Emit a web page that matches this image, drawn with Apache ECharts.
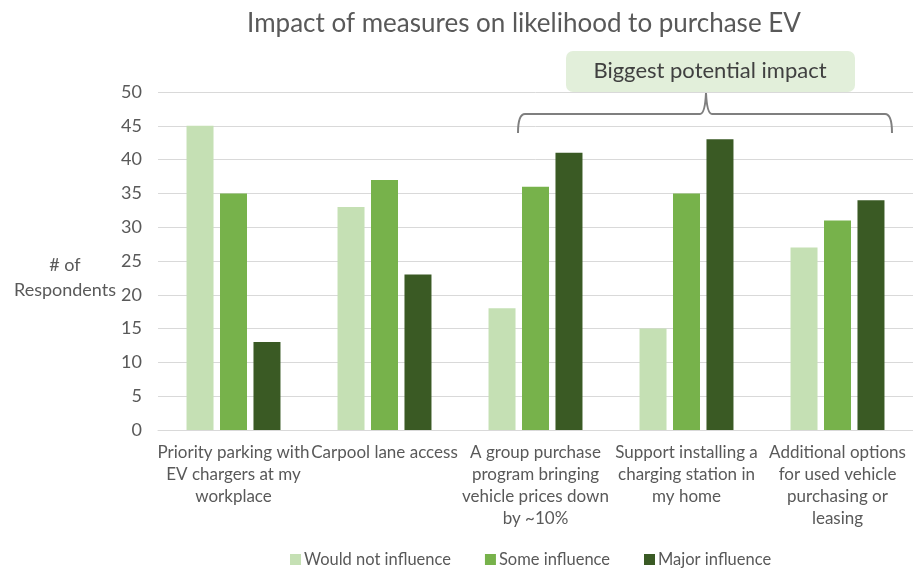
<!DOCTYPE html>
<html>
<head>
<meta charset="utf-8">
<script src="https://cdn.jsdelivr.net/npm/echarts@6/dist/echarts.min.js"></script>
<style>
  html, body { margin: 0; padding: 0; background: #fff; }
  #chart { width: 913px; height: 569px; }
</style>
</head>
<body>
<div id="chart"></div>
<script>
// Survey results: how each measure would influence the likelihood to buy an EV
const categories = [
  'Priority parking with\nEV chargers at my\nworkplace',
  'Carpool lane access',
  'A group purchase\nprogram bringing\nvehicle prices down\nby ~10%',
  'Support installing a\ncharging station in\nmy home',
  'Additional options\nfor used vehicle\npurchasing or\nleasing'
];
const seriesNames = ['Would not influence', 'Some influence', 'Major influence'];
const wouldNotInfluence = [45, 33, 18, 15, 27];
const someInfluence = [35, 37, 36, 35, 31];
const majorInfluence = [13, 23, 41, 43, 34];
const yTicks = { min: 0, max: 50, interval: 5 };

const FONT = 'Lato, "Noto Sans", sans-serif';
const TEXT = '#595959';
const BRACE = '#7f7f7f';
const colors = ['#c5e0b4', '#77b24b', '#3a5a24'];

const chart = echarts.init(document.getElementById('chart'));

const makeSeries = (name, data, i) => ({
  name: name,
  type: 'bar',
  data: data,
  barWidth: 27,
  barGap: '24%',
  itemStyle: { color: colors[i] }
});

const braceLine = (x1, y1, x2, y2) => ({
  type: 'line',
  shape: { x1: x1, y1: y1, x2: x2, y2: y2 },
  style: { stroke: BRACE, lineWidth: 2 },
  z: 10
});
const braceCurve = (x1, y1, cx, cy, x2, y2) => ({
  type: 'bezierCurve',
  shape: { x1: x1, y1: y1, cpx1: cx, cpy1: cy, x2: x2, y2: y2 },
  style: { stroke: BRACE, lineWidth: 2, fill: null },
  z: 10
});

chart.setOption({
  animation: false,
  backgroundColor: '#ffffff',
  textStyle: { fontFamily: FONT },
  title: {
    text: 'Impact of measures on likelihood to purchase EV',
    left: 519,
    textAlign: 'center',
    top: 6,
    textStyle: { fontFamily: FONT, fontSize: 26, fontWeight: 'normal', color: TEXT }
  },
  legend: {
    top: 546,
    left: 285,
    itemWidth: 11,
    itemHeight: 11,
    itemGap: 34,
    icon: 'rect',
    textStyle: { fontFamily: FONT, fontSize: 16.5, color: TEXT, padding: [0, 0, 0, -2] },
    data: seriesNames
  },
  grid: { left: 158, right: 0, top: 92, bottom: 139, containLabel: false },
  xAxis: {
    type: 'category',
    data: categories,
    axisLine: { lineStyle: { color: '#d9d9d9', width: 1 } },
    axisTick: { show: false },
    axisLabel: {
      interval: 0,
      margin: 12,
      fontFamily: FONT,
      fontSize: 17,
      lineHeight: 22,
      color: TEXT
    }
  },
  yAxis: {
    type: 'value',
    min: yTicks.min,
    max: yTicks.max,
    interval: yTicks.interval,
    axisLine: { show: false },
    axisTick: { show: false },
    splitLine: { lineStyle: { color: '#d9d9d9', width: 1 } },
    axisLabel: { margin: 16, fontFamily: FONT, fontSize: 18, color: TEXT }
  },
  series: [
    makeSeries(seriesNames[0], wouldNotInfluence, 0),
    makeSeries(seriesNames[1], someInfluence, 1),
    makeSeries(seriesNames[2], majorInfluence, 2)
  ],
  graphic: [
    {
      type: 'text',
      x: 65,
      y: 278,
      style: {
        text: '# of\nRespondents',
        align: 'center',
        verticalAlign: 'middle',
        fontFamily: FONT,
        fontSize: 18,
        lineHeight: 25,
        fill: TEXT
      }
    },
    {
      type: 'rect',
      shape: { x: 566, y: 51, width: 289, height: 41, r: 7 },
      style: { fill: '#e2efda' },
      z: 10
    },
    {
      type: 'text',
      x: 710,
      y: 71,
      style: {
        text: 'Biggest potential impact',
        align: 'center',
        verticalAlign: 'middle',
        fontFamily: FONT,
        fontSize: 22,
        fill: '#404040'
      },
      z: 11
    },
    // curly brace spanning the three right-hand groups
    braceCurve(518, 133, 518, 114, 525, 114),
    braceLine(525, 114, 700, 114),
    braceCurve(700, 114, 705, 114, 706, 93),
    braceCurve(706, 93, 707, 114, 712, 114),
    braceLine(712, 114, 885, 114),
    braceCurve(885, 114, 892, 114, 892, 133)
  ]
});
</script>
</body>
</html>
